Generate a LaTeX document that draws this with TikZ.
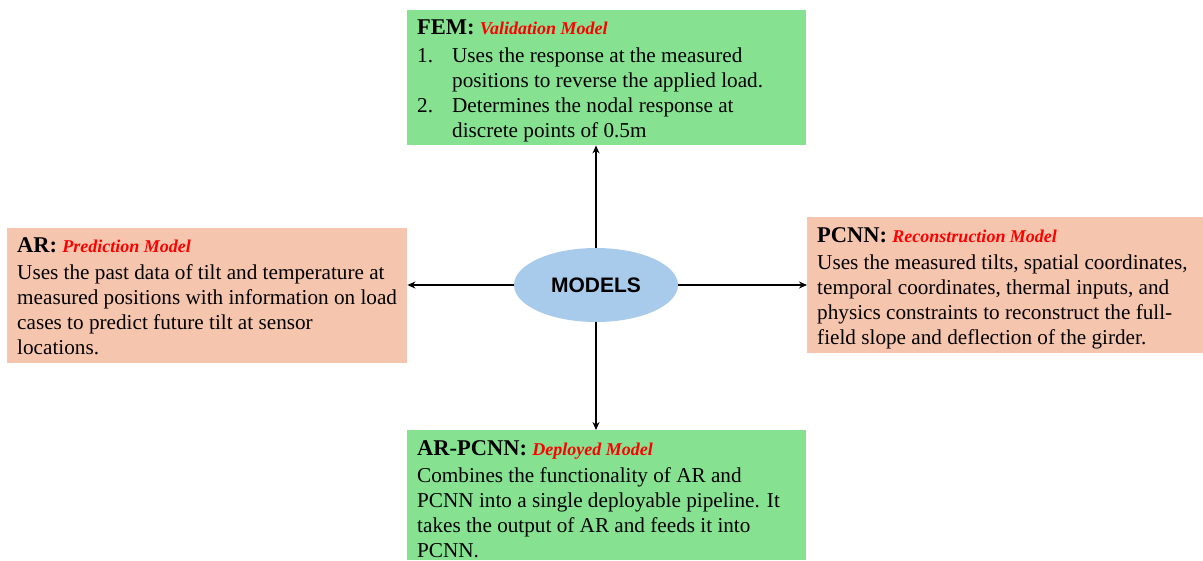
\documentclass[tikz,border=0pt]{standalone}
\usepackage{fontspec}
\setmainfont{Liberation Serif}
\newfontfamily\sansbold{Liberation Sans}
\usetikzlibrary{arrows.meta,shapes.geometric}
\definecolor{boxgreen}{RGB}{134,226,145}
\definecolor{boxpeach}{RGB}{246,197,174}
\definecolor{ellblue}{RGB}{169,203,235}
\newcommand{\ttl}[2]{{\fontsize{22.5}{25}\selectfont\bfseries #1} {\fontsize{18}{25}\selectfont\bfseries\itshape\color{red}#2}}
\begin{document}
\begin{tikzpicture}[x=1pt,y=-1pt,
  gbox/.style={fill=boxgreen, draw=none, anchor=north west, inner sep=0pt},
  pbox/.style={fill=boxpeach, draw=none, anchor=north west, inner sep=0pt},
  txt/.style={anchor=base west, inner sep=0pt, align=left},
  arr/.style={line width=1.8pt, -{Stealth[length=8pt,width=7pt]}}]
\useasboundingbox (0,0) rectangle (1203,560);
% boxes
\node[gbox, minimum width=399pt, minimum height=135pt] (fem) at (407,10) {};
\node[pbox, minimum width=400pt, minimum height=135pt] (ar) at (7,228) {};
\node[pbox, minimum width=396pt, minimum height=136pt] (pcnn) at (807,217) {};
\node[gbox, minimum width=399pt, minimum height=130pt] (dep) at (407,430) {};
% ellipse
\node[ellipse, fill=ellblue, draw=none, minimum width=164pt, minimum height=74pt, inner sep=0pt] (models) at (596,285)
  {\sansbold\bfseries\fontsize{21}{25}\selectfont MODELS};
% texts
\node[txt] (femtxt) at ([xshift=10pt,yshift=-24pt]fem.north west) {\parbox[t]{420pt}{\fontsize{21.2}{25}\selectfont\raggedright
\ttl{FEM:}{Validation Model}\\[3pt]
\makebox[35pt][l]{1.}Uses the response at the measured\\
\hspace*{35pt}positions to reverse the applied load.\\
\makebox[35pt][l]{2.}Determines the nodal response at\\
\hspace*{35pt}discrete points of 0.5m}};
\node[txt] (artxt) at ([xshift=10pt,yshift=-24pt]ar.north west) {\parbox[t]{420pt}{\fontsize{21.2}{25}\selectfont\raggedright
\ttl{AR:}{Prediction Model}\\[2pt]
Uses the past data of tilt and temperature at\\
measured positions with information on load\\
cases to predict future tilt at sensor\\
locations.}};
\node[txt] (pcnntxt) at ([xshift=10pt,yshift=-25pt]pcnn.north west) {\parbox[t]{420pt}{\fontsize{21.2}{25}\selectfont\raggedright
\ttl{PCNN:}{Reconstruction Model}\\[2pt]
Uses the measured tilts, spatial coordinates,\\
temporal coordinates, thermal inputs, and\\
physics constraints to reconstruct the full-\\
field slope and deflection of the girder.}};
\node[txt] (deptxt) at ([xshift=10pt,yshift=-25pt]dep.north west) {\parbox[t]{420pt}{\fontsize{21.2}{25}\selectfont\raggedright
\ttl{AR-PCNN:}{Deployed Model}\\[2pt]
Combines the functionality of AR and\\
PCNN into a single deployable pipeline. It\\
takes the output of AR and feeds it into\\
PCNN.}};
% connectors
\draw[arr] (models.north) -- (models.north |- fem.south);
\draw[arr] (models.west) -- (models.west -| ar.east);
\draw[arr] (models.east) -- (models.east -| pcnn.west);
\draw[arr] (models.south) -- (models.south |- dep.north);
\end{tikzpicture}
\end{document}
